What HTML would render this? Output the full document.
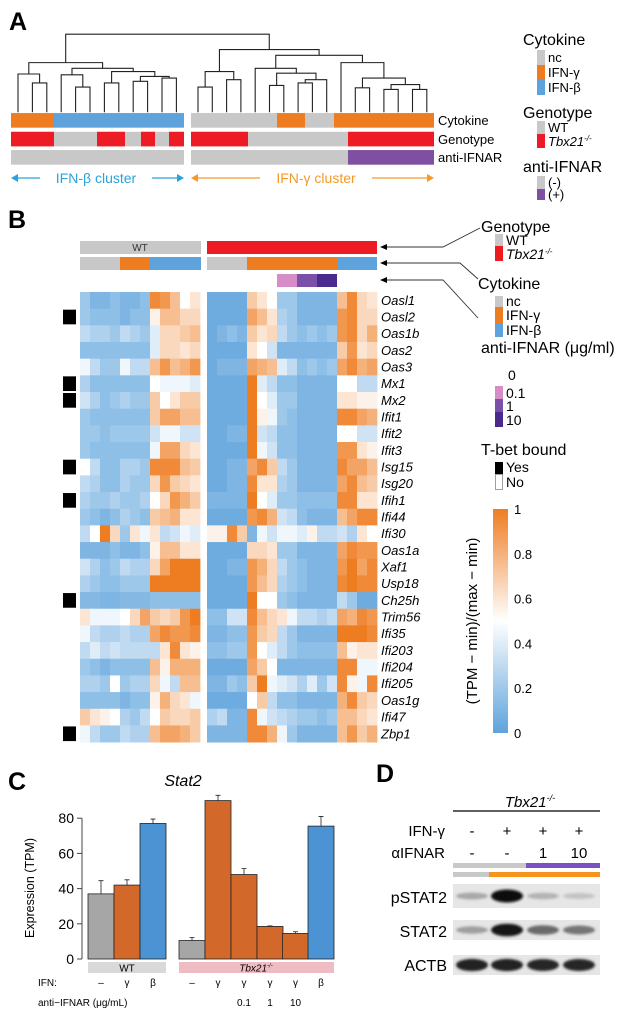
<!DOCTYPE html>
<html><head><meta charset="utf-8"><style>
html,body{margin:0;padding:0;background:#fff;}
svg{display:block;font-family:"Liberation Sans",Arial,sans-serif;}
</style></head><body>
<svg id="fig" width="639" height="1016" viewBox="0 0 639 1016" xmlns="http://www.w3.org/2000/svg">
<defs>
<linearGradient id="cbar" x1="0" y1="1" x2="0" y2="0">
<stop offset="0" stop-color="rgb(94,163,220)"/><stop offset="0.5" stop-color="#fff"/><stop offset="1" stop-color="rgb(238,125,34)"/>
</linearGradient>
<filter id="blur" x="-20%" y="-50%" width="140%" height="200%"><feGaussianBlur stdDeviation="1.3"/></filter>
</defs>
<!-- Panel A -->
<g>
<text x="9" y="30" font-size="25" font-weight="bold">A</text>
<g transform="scale(1,0.8133)">
<g id="dendro" stroke="#222" stroke-width="1.1" fill="none"></g>
<g id="aBars"></g>
</g>
<text x="438" y="125" font-size="13">Cytokine</text>
<text x="438" y="144" font-size="13">Genotype</text>
<text x="438" y="162" font-size="13">anti-IFNAR</text>
<g>
<line x1="14" y1="178" x2="40" y2="178" stroke="#29a3dd" stroke-width="1.3"/><path d="M11,178 l7,-4 v8z" fill="#29a3dd"/>
<line x1="152" y1="178" x2="180" y2="178" stroke="#29a3dd" stroke-width="1.3"/><path d="M184,178 l-7,-4 v8z" fill="#29a3dd"/>
<text x="96" y="183" font-size="14" fill="#29a3dd" text-anchor="middle">IFN-β cluster</text></g>
<g>
<line x1="194" y1="178" x2="260" y2="178" stroke="#f39a2a" stroke-width="1.3"/><path d="M191,178 l7,-4 v8z" fill="#f39a2a"/>
<line x1="372" y1="178" x2="430" y2="178" stroke="#f39a2a" stroke-width="1.3"/><path d="M434,178 l-7,-4 v8z" fill="#f39a2a"/>
<text x="316" y="183" font-size="14" fill="#f39a2a" text-anchor="middle">IFN-γ cluster</text></g>
<g font-size="13">
<text x="523" y="45" font-size="16">Cytokine</text>
<rect x="537" y="50" width="8" height="15" fill="#c8c8c8"/><text x="548" y="62">nc</text>
<rect x="537" y="65" width="8" height="15" fill="#ee7d22"/><text x="548" y="77">IFN-γ</text>
<rect x="537" y="80" width="8" height="15" fill="#5ea3dc"/><text x="548" y="92">IFN-β</text>
<text x="523" y="118" font-size="16">Genotype</text>
<rect x="537" y="121" width="8" height="13" fill="#c8c8c8"/><text x="548" y="132">WT</text>
<rect x="537" y="134" width="8" height="14" fill="#ed1c24"/><text x="548" y="146" font-style="italic">Tbx21<tspan font-size="8" dy="-5">-/-</tspan></text>
<text x="523" y="172" font-size="16">anti-IFNAR</text>
<rect x="537" y="176" width="8" height="13" fill="#c8c8c8"/><text x="548" y="187">(-)</text>
<rect x="537" y="189" width="8" height="11" fill="#7f4fa2"/><text x="548" y="199">(+)</text>
</g>
</g>
<!-- Panel B -->
<g>
<text x="8" y="228" font-size="25" font-weight="bold">B</text>
<g>
<rect x="80" y="241" width="121" height="13" fill="#c8c8c8"/>
<text x="140" y="251" font-size="10" text-anchor="middle" fill="#333">WT</text>
<rect x="207" y="241" width="170" height="13" fill="#ed1c24"/>
<rect x="80" y="257" width="40" height="13" fill="#c8c8c8"/><rect x="120" y="257" width="30" height="13" fill="#ee7d22"/><rect x="150" y="257" width="51" height="13" fill="#5ea3dc"/>
<rect x="207" y="257" width="40" height="13" fill="#c8c8c8"/><rect x="247" y="257" width="90" height="13" fill="#ee7d22"/><rect x="337" y="257" width="40" height="13" fill="#5ea3dc"/>
<rect x="277" y="274" width="20" height="13" fill="#d68cc6"/><rect x="297" y="274" width="20" height="13" fill="#7b50a8"/><rect x="317" y="274" width="20" height="13" fill="#4a2a8c"/>
</g>
<g stroke="#333" stroke-width="0.9" fill="none">
<polyline points="386,247 443,247 480,228"/><path d="M380,247 l7,-3 v6z" fill="#000" stroke="none"/>
<polyline points="386,263 460,263 478,279"/><path d="M380,263 l7,-3 v6z" fill="#000" stroke="none"/>
<polyline points="386,280 443,280 478,318"/><path d="M380,280 l7,-3 v6z" fill="#000" stroke="none"/>
</g>
<g id="heat"></g>
<g id="tbet"></g>
<g id="genes" font-size="13" font-style="italic"></g>
<g font-size="14">
<text x="481" y="232" font-size="16">Genotype</text>
<rect x="495" y="234" width="8" height="12" fill="#c8c8c8"/><text x="506" y="245">WT</text>
<rect x="495" y="246" width="8" height="15" fill="#ed1c24"/><text x="506" y="259" font-style="italic">Tbx21<tspan font-size="8" dy="-5">-/-</tspan></text>
<text x="478" y="289" font-size="16">Cytokine</text>
<rect x="495" y="296" width="8" height="11" fill="#c8c8c8"/><text x="506" y="306">nc</text>
<rect x="495" y="307" width="8" height="16" fill="#ee7d22"/><text x="506" y="320">IFN-γ</text>
<rect x="495" y="323" width="8" height="14" fill="#5ea3dc"/><text x="506" y="335">IFN-β</text>
<text x="481" y="353" font-size="16">anti-IFNAR (μg/ml)</text>
<text x="508" y="380">0</text>
<rect x="495" y="386" width="8" height="13" fill="#d68cc6"/><text x="506" y="398">0.1</text>
<rect x="495" y="399" width="8" height="13" fill="#7b50a8"/><text x="506" y="411">1</text>
<rect x="495" y="412" width="8" height="15" fill="#4a2a8c"/><text x="506" y="425">10</text>
<text x="481" y="455" font-size="16">T-bet bound</text>
<rect x="495" y="462" width="8" height="12" fill="#000"/><text x="506" y="472">Yes</text>
<rect x="495.5" y="474.5" width="7" height="15" fill="#fff" stroke="#888" stroke-width="0.8"/><text x="506" y="487">No</text>
</g>
<g>
<rect x="493" y="509" width="15" height="224" fill="url(#cbar)"/>
<g id="cticks" font-size="13"></g>
<text transform="translate(477,621) rotate(-90)" font-size="15" text-anchor="middle">(TPM − min)/(max − min)</text>
</g>
</g>
<!-- Panel C -->
<g>
<text x="8" y="790" font-size="25" font-weight="bold">C</text>
<text x="183" y="786" font-size="16" font-style="italic" text-anchor="middle">Stat2</text>
<g id="cAxis"></g>
<text transform="translate(34,888) rotate(-90)" font-size="12.5" text-anchor="middle">Expression (TPM)</text>
<g id="cBars"></g>
<rect x="88" y="962" width="78" height="11" fill="#d9d9d9"/>
<text x="127" y="971.5" font-size="10" text-anchor="middle">WT</text>
<rect x="179" y="962" width="155" height="11" fill="#efbcc4"/>
<text x="256" y="971.5" font-size="10" text-anchor="middle" font-style="italic">Tbx21<tspan font-size="6" dy="-4">-/-</tspan></text>
<text x="38" y="986" font-size="10">IFN:</text>
<text x="38" y="1006" font-size="10">anti−IFNAR (μg/mL)</text>
<g id="cLabels" font-size="10" text-anchor="middle"></g>
</g>
<!-- Panel D -->
<g>
<text x="376" y="782" font-size="25" font-weight="bold">D</text>
<text x="530" y="807" font-size="15" font-style="italic" text-anchor="middle">Tbx21<tspan font-size="9" dy="-6">-/-</tspan></text>
<line x1="453" y1="811" x2="600" y2="811" stroke="#000" stroke-width="1.2"/>
<g font-size="15" text-anchor="middle">
<text x="445" y="836" text-anchor="end">IFN-γ</text>
<text x="472" y="836">-</text><text x="507" y="836">+</text><text x="543" y="836">+</text><text x="579" y="836">+</text>
<text x="445" y="858" text-anchor="end">αIFNAR</text>
<text x="472" y="858">-</text><text x="507" y="858">-</text><text x="543" y="858">1</text><text x="579" y="858">10</text>
</g>
<rect x="453" y="863" width="73" height="5" fill="#c8c8c8"/><rect x="526" y="863" width="74" height="5" fill="#7b50c0"/>
<rect x="453" y="872" width="36" height="5" fill="#c8c8c8"/><rect x="489" y="872" width="111" height="5" fill="#f7941d"/>
<g id="blots"></g>
<g font-size="16" text-anchor="end">
<text x="447" y="903">pSTAT2</text><text x="447" y="937">STAT2</text><text x="447" y="971">ACTB</text>
</g>
</g>
<script>
// ---------- Panel B heatmap data ----------
const genes = ["Oasl1","Oasl2","Oas1b","Oas2","Oas3","Mx1","Mx2","Ifit1","Ifit2","Ifit3","Isg15","Isg20","Ifih1","Ifi44","Ifi30","Oas1a","Xaf1","Usp18","Ch25h","Trim56","Ifi35","Ifi203","Ifi204","Ifi205","Oas1g","Ifi47","Zbp1"];
const tbetBound = [0,1,0,0,0,1,1,0,0,0,1,0,1,0,0,0,0,0,1,0,0,0,0,0,0,0,1];
const heatWT = [
[0.2,0.1,0.1,0.15,0.1,0.1,0.15,0.95,0.9,0.75,0.5,0.6],
[0.2,0.15,0.15,0.15,0.1,0.15,0.15,0.55,0.75,0.75,0.65,0.65],
[0.3,0.25,0.25,0.2,0.3,0.25,0.2,0.4,0.65,0.65,0.7,0.75],
[0.15,0.15,0.15,0.15,0.15,0.15,0.15,0.4,0.65,0.65,0.6,0.65],
[0.45,0.3,0.2,0.2,0.45,0.3,0.3,0.75,0.9,0.75,0.8,0.9],
[0.25,0.15,0.15,0.15,0.15,0.15,0.15,0.5,0.45,0.45,0.45,0.4],
[0.35,0.25,0.15,0.2,0.25,0.2,0.2,0.7,0.5,0.6,0.7,0.7],
[0.2,0.15,0.15,0.15,0.15,0.15,0.15,0.7,0.85,0.85,0.75,0.75],
[0.2,0.2,0.15,0.2,0.2,0.2,0.2,0.35,0.45,0.45,0.35,0.35],
[0.2,0.15,0.15,0.15,0.15,0.15,0.15,0.45,0.85,0.85,0.65,0.6],
[0.5,0.3,0.15,0.15,0.25,0.25,0.2,0.95,0.95,0.95,0.75,0.7],
[0.3,0.25,0.15,0.15,0.25,0.2,0.2,0.65,0.9,0.7,0.65,0.6],
[0.25,0.2,0.2,0.25,0.2,0.2,0.25,0.5,0.65,0.9,0.8,0.7],
[0.2,0.15,0.1,0.15,0.25,0.2,0.15,0.7,0.75,0.8,0.6,0.6],
[0.3,0.5,1.0,0.65,0.2,0.6,0.45,0.6,0.3,0.35,0.45,0.4],
[0.1,0.1,0.1,0.15,0.1,0.1,0.15,0.55,0.75,0.75,0.6,0.6],
[0.35,0.25,0.15,0.2,0.3,0.25,0.25,0.65,0.85,1,1,1],
[0.25,0.2,0.15,0.15,0.2,0.2,0.2,1,1,1,1,1],
[0.12,0.12,0.1,0.1,0.12,0.12,0.12,0.15,0.15,0.15,0.15,0.15],
[0.6,0.45,0.45,0.45,0.5,0.65,0.85,0.7,0.65,0.7,0.9,1.0],
[0.45,0.3,0.25,0.25,0.3,0.25,0.25,0.85,0.95,0.9,0.9,0.95],
[0.3,0.4,0.3,0.35,0.3,0.3,0.3,0.3,0.6,0.95,0.6,0.55],
[0.2,0.15,0.1,0.15,0.15,0.15,0.15,0.75,0.55,0.8,0.8,0.8],
[0.25,0.25,0.2,0.5,0.2,0.25,0.25,0.65,0.45,0.3,0.75,0.75],
[0.15,0.15,0.15,0.15,0.1,0.15,0.15,0.55,0.8,0.65,0.6,0.45],
[0.7,0.6,0.55,0.5,0.25,0.2,0.3,0.5,0.7,0.65,0.65,0.7],
[0.45,0.3,0.2,0.2,0.3,0.25,0.25,0.75,0.85,0.85,0.8,0.7]];
const heatKO = [
[0.05,0.05,0.05,0.05,0.7,0.6,0.5,0.2,0.2,0.1,0.1,0.1,0.1,0.75,0.95,0.65,0.6],
[0.05,0.05,0.05,0.05,0.85,0.75,0.6,0.25,0.2,0.1,0.1,0.1,0.1,0.9,0.95,0.65,0.65],
[0.05,0.1,0.15,0.1,0.7,0.6,0.65,0.3,0.2,0.15,0.2,0.15,0.2,0.9,0.95,0.65,0.8],
[0.05,0.05,0.05,0.05,0.6,0.5,0.35,0.1,0.1,0.1,0.1,0.1,0.1,0.7,0.9,0.6,0.65],
[0.05,0.1,0.1,0.1,0.85,0.8,0.75,0.4,0.3,0.15,0.2,0.15,0.2,0.85,0.95,0.8,0.85],
[0.05,0.05,0.05,0.05,1.0,0.4,0.3,0.15,0.15,0.1,0.1,0.1,0.1,0.5,0.5,0.3,0.3],
[0.05,0.05,0.05,0.05,1.0,0.5,0.4,0.2,0.2,0.1,0.1,0.1,0.1,0.6,0.6,0.55,0.55],
[0.05,0.05,0.05,0.05,1.0,0.55,0.45,0.2,0.15,0.1,0.1,0.1,0.1,0.95,0.95,0.85,0.8],
[0.05,0.05,0.1,0.1,1.0,0.35,0.3,0.15,0.15,0.1,0.1,0.1,0.1,0.5,0.5,0.35,0.35],
[0.05,0.05,0.05,0.05,1.0,0.45,0.35,0.15,0.15,0.1,0.1,0.1,0.1,0.9,0.9,0.6,0.55],
[0.05,0.05,0.1,0.1,0.85,0.95,0.7,0.3,0.2,0.1,0.1,0.1,0.1,0.95,0.85,0.85,0.75],
[0.05,0.05,0.1,0.1,0.95,0.6,0.6,0.25,0.2,0.1,0.1,0.1,0.1,0.85,0.95,0.75,0.7],
[0.1,0.1,0.1,0.1,1.0,0.5,0.4,0.2,0.2,0.15,0.15,0.15,0.15,0.95,0.95,0.6,0.6],
[0.05,0.05,0.05,0.05,0.9,0.95,0.8,0.35,0.3,0.15,0.1,0.1,0.1,0.75,0.85,0.95,0.95],
[0.55,0.55,0.95,0.7,0.1,0.45,0.35,0.45,0.45,0.4,0.55,0.3,0.3,0.35,0.25,0.6,0.5],
[0.05,0.05,0.05,0.05,0.65,0.65,0.6,0.2,0.2,0.1,0.1,0.1,0.1,0.85,0.95,0.9,0.9],
[0.05,0.05,0.1,0.1,0.9,0.8,0.65,0.3,0.2,0.15,0.1,0.1,0.1,0.9,1,0.85,0.95],
[0.05,0.05,0.05,0.05,0.9,0.75,0.65,0.25,0.2,0.15,0.1,0.1,0.1,0.95,1,0.95,0.95],
[0.05,0.05,0.05,0.05,1.0,0.5,0.5,0.2,0.15,0.1,0.1,0.1,0.1,0.3,0.2,0.05,0.05],
[0.15,0.15,0.35,0.35,0.95,0.75,0.65,0.6,0.45,0.3,0.3,0.25,0.3,0.85,0.8,0.95,0.9],
[0.1,0.1,0.15,0.15,0.9,0.7,0.65,0.3,0.2,0.1,0.1,0.1,0.1,1,1,1,0.95],
[0.15,0.15,0.2,0.2,0.9,0.5,0.4,0.3,0.2,0.15,0.15,0.15,0.15,0.75,0.55,0.6,0.6],
[0.05,0.05,0.05,0.05,0.85,0.7,0.5,0.1,0.1,0.1,0.1,0.1,0.1,0.95,0.95,0.45,0.45],
[0.1,0.1,0.2,0.15,0.7,1.0,0.45,0.4,0.35,0.25,0.4,0.2,0.35,0.95,0.55,0.45,0.95],
[0.05,0.05,0.05,0.05,0.5,0.7,0.3,0.15,0.15,0.1,0.1,0.1,0.1,0.8,0.95,0.7,0.65],
[0.25,0.3,0.1,0.1,0.95,0.45,0.35,0.3,0.25,0.2,0.2,0.15,0.2,0.75,0.75,0.65,0.6],
[0.1,0.1,0.1,0.1,0.95,0.95,0.8,0.45,0.2,0.1,0.1,0.1,0.1,0.75,0.9,0.7,0.8]];
const colorTicks = ["0","0.2","0.4","0.6","0.8","1"];
// ---------- Panel C data ----------
const cCategories = ["WT nc","WT IFN-γ","WT IFN-β","KO nc","KO IFN-γ","KO IFN-γ+0.1","KO IFN-γ+1","KO IFN-γ+10","KO IFN-β"];
const cValues = [37,42,77,10.5,90,48,18.5,14.5,75.5];
const cErrors = [7.5,3,2.5,1.8,3,3.5,0.3,1,5.5];
const cIfn = ["–","γ","β","–","γ","γ","γ","γ","β"];
const cAnti = ["","","","","","0.1","1","10",""];
const cTicks = [0,20,40,60,80];
// ---------- Panel D data ----------
const pstat2 = [0.25,1.0,0.2,0.12];
const stat2 = [0.3,0.95,0.55,0.5];
const actb = [0.9,0.9,0.88,0.88];

const NS="http://www.w3.org/2000/svg";
function mk(tag, attrs, parent){const e=document.createElementNS(NS,tag);for(const k in attrs)e.setAttribute(k,attrs[k]);parent.appendChild(e);return e;}
function heatColor(v){
  const b=[94,163,220],w=[255,255,255],o=[238,125,34];
  let c;
  if(v<0.5){const t=v/0.5;c=b.map((x,i)=>Math.round(x+(w[i]-x)*t));}
  else{const t=(v-0.5)/0.5;c=w.map((x,i)=>Math.round(x+(o[i]-x)*t));}
  return "rgb("+c.join(",")+")";
}
const heat=document.getElementById("heat"), rowH=16.67, top0=292, colW=10;
function colX(block,j){return block===0?80+j*colW:207+j*colW;}
function rowY(i){return top0+i*rowH;}
[heatWT,heatKO].forEach((mat,block)=>{
  mat.forEach((row,i)=>{row.forEach((v,j)=>{
    const r=mk("rect",{x:colX(block,j),y:rowY(i),width:colW+0.4,height:rowH+0.4,fill:heatColor(v)},heat);
    
    
  });});
});
const tb=document.getElementById("tbet"), gl=document.getElementById("genes");
genes.forEach((g,i)=>{
  const t=mk("text",{x:381,y:rowY(i)+rowH/2+4.5},gl);t.textContent=g;
  
  
  if(tbetBound[i]){
    const r=mk("rect",{x:63,y:rowY(i)+1,width:13,height:rowH-2,fill:"#000"},tb);
    
    
  }
});
const ct=document.getElementById("cticks");
colorTicks.forEach((s,i)=>{const t=mk("text",{x:514,y:733-i*44.8+5},ct);t.textContent=s;
  
  });
// ---------- dendrogram ----------
const dg=document.getElementById("dendro");
const leafBottom=138;
function leafX(side,i){return side===0?18+i*14.4:198+i*14.3;}
function drawTree(node,side){
  if(typeof node==="number") return {x:leafX(side,node),y:leafBottom};
  const a=drawTree(node[0],side), b=drawTree(node[1],side), h=node[2];
  mk("path",{d:`M${a.x},${a.y} V${h} H${b.x} V${b.y}`,"vector-effect":"non-scaling-stroke"},dg);
  return {x:(a.x+b.x)/2,y:h};
}
const leftTree=[[0,[1,2,102],91],[[3,[4,5,107],92],[[6,7,102],[[8,9,100],[10,11,96],94],88],84],77];
const rightTree=[[[0,1,107],[2,3,98],88],[[4,[[5,6,105],[[7,8,102],9,98],90],84],[10,[[11,12,108],[[13,14,110],[15,16,110],104],96],77],68],61];
const L=drawTree(leftTree,0), R=drawTree(rightTree,1);
mk("path",{d:`M${L.x},${L.y} V42 H${R.x} V${R.y}`,"vector-effect":"non-scaling-stroke"},dg);
const ab=document.getElementById("aBars");
const G="#c8c8c8",O="#ee7d22",B="#5ea3dc",Rd="#ed1c24",P="#7f4fa2";
const segs=[
 [139,[[11,54,O],[54,184,B],[191,277,G],[277,305,O],[305,334,G],[334,434,O]]],
 [162,[[11,54,Rd],[54,97,G],[97,125,Rd],[125,141,G],[141,155,Rd],[155,169,G],[169,184,Rd],[191,248,Rd],[248,348,G],[348,434,Rd]]],
 [184.5,[[11,184,G],[191,348,G],[348,434,P]]]];
segs.forEach(([y,list])=>list.forEach(([x0,x1,c])=>{const r=mk("rect",{x:x0,y:y,width:x1-x0,height:18,fill:c},ab);
 
 }));
// ---------- Panel C ----------
const cAx=document.getElementById("cAxis"), cB=document.getElementById("cBars"), cL=document.getElementById("cLabels");
function yC(v){return 959-v*1.76;}
const barX=[88,114,140,179,205,231,257,282.5,308];
const barW=26;
const barCol=["#a6a6a6","#d2692a","#4c93d3","#a6a6a6","#d2692a","#d2692a","#d2692a","#d2692a","#4c93d3"];
mk("line",{x1:82,y1:yC(0),x2:82,y2:yC(80),stroke:"#444","stroke-width":1},cAx);
cTicks.forEach(v=>{mk("line",{x1:77,y1:yC(v),x2:82,y2:yC(v),stroke:"#444","stroke-width":1},cAx);
 const t=mk("text",{x:74,y:yC(v)+5,"font-size":14,"text-anchor":"end"},cAx);t.textContent=v;
 
 });
cValues.forEach((v,i)=>{
  const x=barX[i];
  const r=mk("rect",{x:x,y:yC(v),width:barW,height:yC(0)-yC(v),fill:barCol[i],stroke:"#222","stroke-width":0.8},cB);
  
  
  const cx=x+barW/2, e=v+cErrors[i];
  mk("path",{d:`M${cx},${yC(v)} V${yC(e)} M${cx-2.5},${yC(e)} H${cx+2.5}`,stroke:"#222","stroke-width":0.8,fill:"none"},cB);
  const t1=mk("text",{x:cx,y:986},cL);t1.textContent=cIfn[i];
  
  
  if(cAnti[i]){const t2=mk("text",{x:cx,y:1006},cL);t2.textContent=cAnti[i];
  
  }
});
// ---------- Panel D blots ----------
const bl=document.getElementById("blots");
const laneX=[472,507,543,579];
[[pstat2,884,908],[stat2,920,940],[actb,955,975]].forEach(([vals,y0,y1])=>{
  const bg=mk("rect",{x:453,y:y0,width:147,height:y1-y0,fill:"#e6e6e6"},bl);
  
  
  vals.forEach((v,i)=>{
    const g=Math.round(220-205*v);
    const e=mk("ellipse",{cx:laneX[i],cy:(y0+y1)/2,rx:16,ry:2.5+4*v,fill:`rgb(${g},${g},${g})`,filter:"url(#blur)"},bl);
    
    
  });
});
</script>
</svg>
</body></html>
